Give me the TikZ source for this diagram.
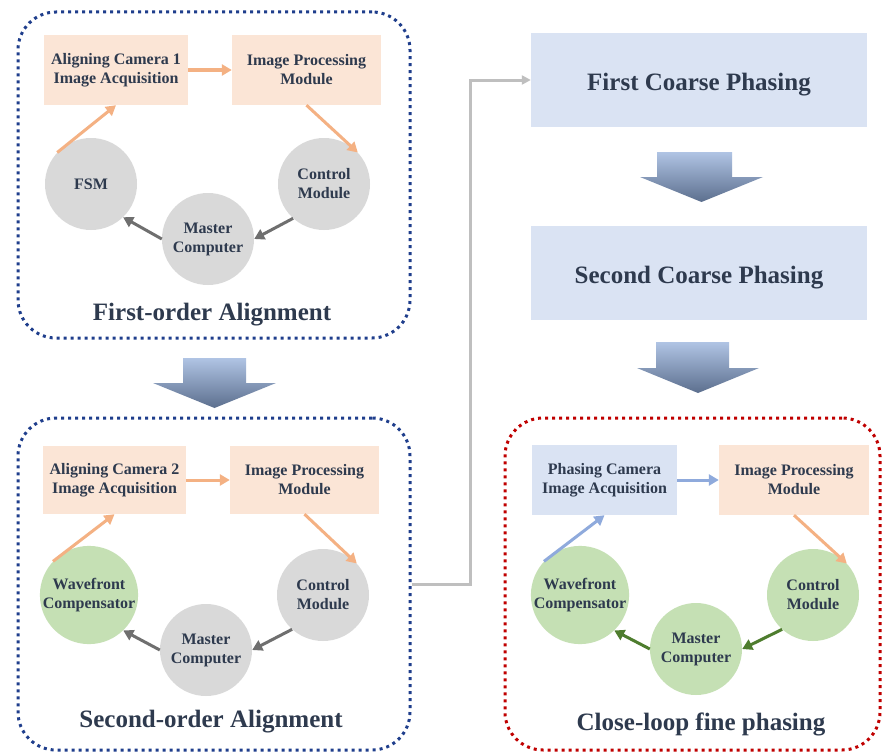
\documentclass[tikz,border=0pt]{standalone}
\usepackage{fontspec}
\setmainfont{Liberation Serif}
\usetikzlibrary{arrows.meta}
\definecolor{txt}{HTML}{2E3A4E}
\definecolor{peach}{HTML}{FBE5D6}
\definecolor{peachline}{HTML}{F4B183}
\definecolor{lblue}{HTML}{DAE3F3}
\definecolor{blueline}{HTML}{8FAADC}
\definecolor{gcirc}{HTML}{D9D9D9}
\definecolor{garrow}{HTML}{6F6F6F}
\definecolor{grcirc}{HTML}{C5E0B4}
\definecolor{grarrow}{HTML}{4E7D2E}
\definecolor{navydot}{HTML}{1F3E8C}
\definecolor{reddot}{HTML}{C00000}
\definecolor{conn}{HTML}{BFBFBF}
\definecolor{bigtop}{HTML}{B0C4E4}
\definecolor{bigbot}{HTML}{5C6F8E}
\tikzset{
  every node/.style={text=txt,font=\bfseries\fontsize{16}{19}\selectfont},
  stagebox/.style={rectangle,rounded corners=38pt,line width=3pt,dash pattern=on 3pt off 4pt,minimum width=#1},
  pbox/.style={rectangle,fill=peach,minimum width=149pt,minimum height=70pt,align=center,inner sep=0pt},
  bbox/.style={rectangle,fill=lblue,minimum width=145pt,minimum height=70pt,align=center,inner sep=0pt},
  gc/.style={circle,fill=gcirc,minimum size=92pt,inner sep=0pt,align=center},
  grc/.style={circle,fill=grcirc,minimum size=92pt,inner sep=0pt,align=center},
  coarse/.style={rectangle,fill=lblue,minimum width=336pt,minimum height=94pt,text height=20pt,text depth=0pt,font=\bfseries\fontsize{25}{30}\selectfont},
  title/.style={font=\bfseries\fontsize{25}{30}\selectfont},
  oarr/.style={draw=peachline,line width=3pt,-{Triangle[length=10pt,width=11pt]}},
  barr/.style={draw=blueline,line width=3pt,-{Triangle[length=10pt,width=11pt]}},
  garr/.style={draw=garrow,line width=3pt,-{Triangle[length=10pt,width=11pt]}},
  grarr/.style={draw=grarrow,line width=3pt,-{Triangle[length=10pt,width=11pt]}},
  big/.style={top color=bigtop,bottom color=bigbot,draw=none}
}
\begin{document}
\begin{tikzpicture}[x=1pt,y=-1pt]
\useasboundingbox (0,0) rectangle (883,752);
\fill[white] (0,0) rectangle (883,752);

% ---------- Box 1 ----------
\node[stagebox=392pt,draw=navydot,minimum height=326pt] (box1) at (214,175) {};
\node[pbox,minimum width=144pt] (cam1) at (116,70) {Aligning Camera 1\\Image Acquisition};
\node[pbox] (ip1) at (306.5,70) {Image Processing\\Module};
\node[gc] (fsm) at (91,184) {FSM};
\node[gc] (ctrl1) at (324,184) {Control\\Module};
\node[gc] (mc1) at (208,239) {Master\\Computer};
\node[title] (t1) at (212,315) {First-order Alignment};
\draw[oarr] (cam1.east) -- (ip1.west);
\draw[oarr] (fsm.137) -- (cam1.south);
\draw[oarr] (ip1.south) -- (ctrl1.43);
\draw[garr] (ctrl1.228) -- (mc1.east);
\draw[garr] (mc1.west) -- (fsm.-46);

% big arrow 1
\shade[big] (183,358) -- (246,358) -- (246,383) -- (276,383) -- (214.5,408) -- (153,383) -- (183,383) -- cycle;

% ---------- Box 2 ----------
\node[stagebox=392pt,draw=navydot,minimum height=332pt] (box2) at (214,584) {};
\node[pbox,minimum width=143pt,minimum height=68pt] (cam2) at (114.5,480) {Aligning Camera 2\\Image Acquisition};
\node[pbox,minimum height=68pt] (ip2) at (304.5,480) {Image Processing\\Module};
\node[grc] (wf2) at (89,595) {Wavefront\\Compensator};
\node[gc] (ctrl2) at (323,595) {Control\\Module};
\node[gc] (mc2) at (206,650) {Master\\Computer};
\node[title] (t2) at (211,722) {Second-order Alignment};
\draw[oarr] (cam2.east) -- (ip2.west);
\draw[oarr] (wf2.137) -- (cam2.south);
\draw[oarr] (ip2.south) -- (ctrl2.43);
\draw[garr] (ctrl2.228) -- (mc2.east);
\draw[garr] (mc2.west) -- (wf2.-46);

% ---------- Right column ----------
\node[coarse] (fcp) at (699,80) {First Coarse Phasing};
\node[coarse] (scp) at (699,273) {Second Coarse Phasing};
\shade[big] (657,152) -- (732,152) -- (732,177) -- (763,177) -- (701.5,202) -- (640,177) -- (657,177) -- cycle;
\shade[big] (656,342) -- (729,342) -- (729,368) -- (759,368) -- (698,393) -- (637,368) -- (656,368) -- cycle;

\draw[draw=conn,line width=3pt,-{Triangle[length=9pt,width=9pt]}] (box2.east) -- ++(59,0) |- (fcp.west);

% ---------- Box 3 ----------
\node[stagebox=375pt,draw=reddot,minimum height=332pt] (box3) at (692.5,584) {};
\node[bbox] (pc) at (604.5,480) {Phasing Camera\\Image Acquisition};
\node[pbox,minimum width=150pt] (ip3) at (794,480) {Image Processing\\Module};
\node[grc] (wf3) at (580,595) {Wavefront\\Compensator};
\node[grc] (ctrl3) at (813,595) {Control\\Module};
\node[grc] (mc3) at (696,649) {Master\\Computer};
\node[title] (t3) at (701,724) {Close-loop fine phasing};
\draw[barr] (pc.east) -- (ip3.west);
\draw[barr] (wf3.137) -- (pc.south);
\draw[oarr] (ip3.south) -- (ctrl3.43);
\draw[grarr] (ctrl3.228) -- (mc3.east);
\draw[grarr] (mc3.west) -- (wf3.-46);
\end{tikzpicture}
\end{document}
